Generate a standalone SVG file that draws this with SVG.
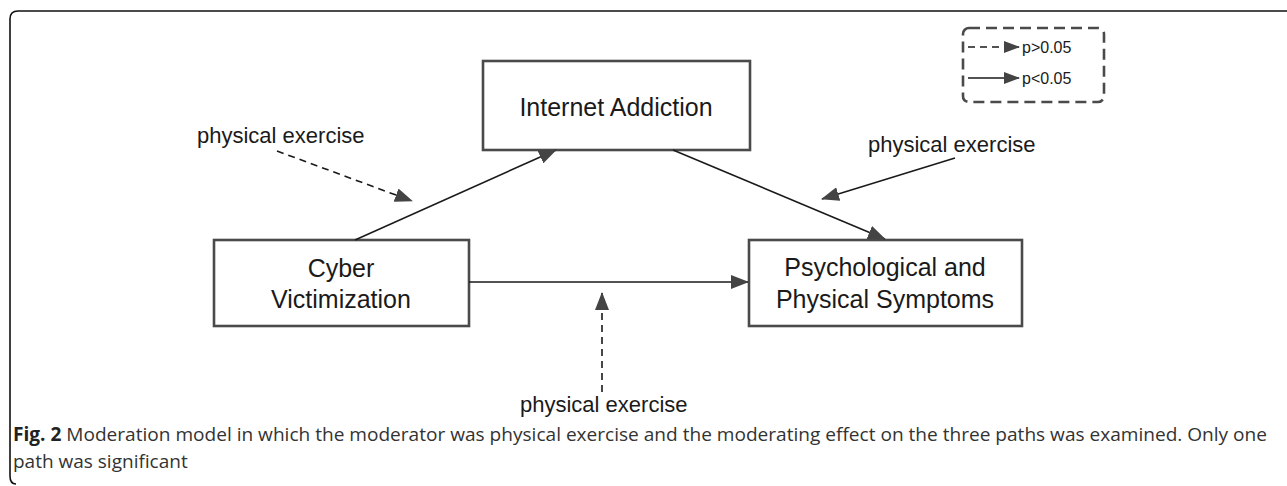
<svg xmlns="http://www.w3.org/2000/svg" width="1287" height="486" viewBox="0 0 1287 486">
<style>
.frame{fill:none;stroke:#111;stroke-width:1.6}
.box{fill:#fff;stroke:#4a4a4a;stroke-width:2.6}
.lbl{font-family:"Liberation Sans",Arial,sans-serif;font-size:25px;fill:#1a1a1a;text-anchor:middle}
.mod{font-family:"Liberation Sans",Arial,sans-serif;font-size:22px;fill:#1a1a1a}
.leg{font-family:"Liberation Sans",Arial,sans-serif;font-size:16px;fill:#1a1a1a}
.solid{fill:none;stroke:#1a1a1a;stroke-width:1.6}
.dash{fill:none;stroke:#1a1a1a;stroke-width:1.6;stroke-dasharray:7 5}
.cap{font-family:"Open Sans","Liberation Sans",sans-serif;font-size:19px;fill:#333}
</style>
<defs>
<marker id="ah" viewBox="0 0 18 14" refX="17" refY="7" markerWidth="18" markerHeight="14" markerUnits="userSpaceOnUse" orient="auto">
<path d="M0,0 L18,7 L0,14 z" fill="#444"/>
</marker>
<marker id="ahs" viewBox="0 0 16 12" refX="15" refY="6" markerWidth="16" markerHeight="12" markerUnits="userSpaceOnUse" orient="auto">
<path d="M0,0 L16,6 L0,12 z" fill="#444"/>
</marker>
</defs>
<rect width="1287" height="486" fill="#fff"/>
<path class="frame" d="M1287,11 L18,11 Q10,11 10,19 L10,476 Q10,484 16,484"/>

<g id="legend">
<rect x="963" y="28" width="141" height="74" rx="6" fill="none" stroke="#4a4a4a" stroke-width="2.6" stroke-dasharray="11 6"/>
<line class="dash" x1="968" y1="47" x2="1019" y2="47" marker-end="url(#ahs)"/>
<text class="leg" x="1022" y="53">p&gt;0.05</text>
<line class="solid" x1="968" y1="78" x2="1019" y2="78" marker-end="url(#ahs)"/>
<text class="leg" x="1022" y="84">p&lt;0.05</text>
</g>

<g id="node-internet">
<rect class="box" x="483" y="61" width="267" height="89"/>
<text class="lbl" x="616" y="116">Internet Addiction</text>
</g>
<g id="node-cyber">
<rect class="box" x="214" y="240" width="255" height="86"/>
<text class="lbl" x="341" y="277">Cyber</text>
<text class="lbl" x="341" y="308">Victimization</text>
</g>
<g id="node-psych">
<rect class="box" x="749" y="240" width="273" height="86"/>
<text class="lbl" x="885" y="276">Psychological and</text>
<text class="lbl" x="885" y="308">Physical Symptoms</text>
</g>

<g id="mod-labels">
<text class="mod" x="197" y="143">physical exercise</text>
<text class="mod" x="868" y="152">physical exercise</text>
<text class="mod" x="520" y="412">physical exercise</text>
</g>

<g id="connectors">
<line class="solid" x1="355" y1="240" x2="556" y2="150" marker-end="url(#ah)"/>
<line class="solid" x1="673" y1="150" x2="885" y2="239" marker-end="url(#ah)"/>
<line class="solid" x1="469" y1="282" x2="748" y2="282" marker-end="url(#ah)"/>
<line class="dash" x1="277" y1="151" x2="412" y2="201" marker-end="url(#ah)"/>
<line class="solid" x1="955" y1="158" x2="822" y2="199" marker-end="url(#ah)"/>
<line class="dash" x1="602" y1="392" x2="602" y2="293" marker-end="url(#ah)"/>
</g>

<g id="caption">
<text class="cap" x="13" y="441" textLength="1254" lengthAdjust="spacingAndGlyphs"><tspan font-weight="bold" fill="#222">Fig. 2</tspan> Moderation model in which the moderator was physical exercise and the moderating effect on the three paths was examined. Only one</text>
<text class="cap" x="13" y="468">path was significant</text>
</g>
</svg>
